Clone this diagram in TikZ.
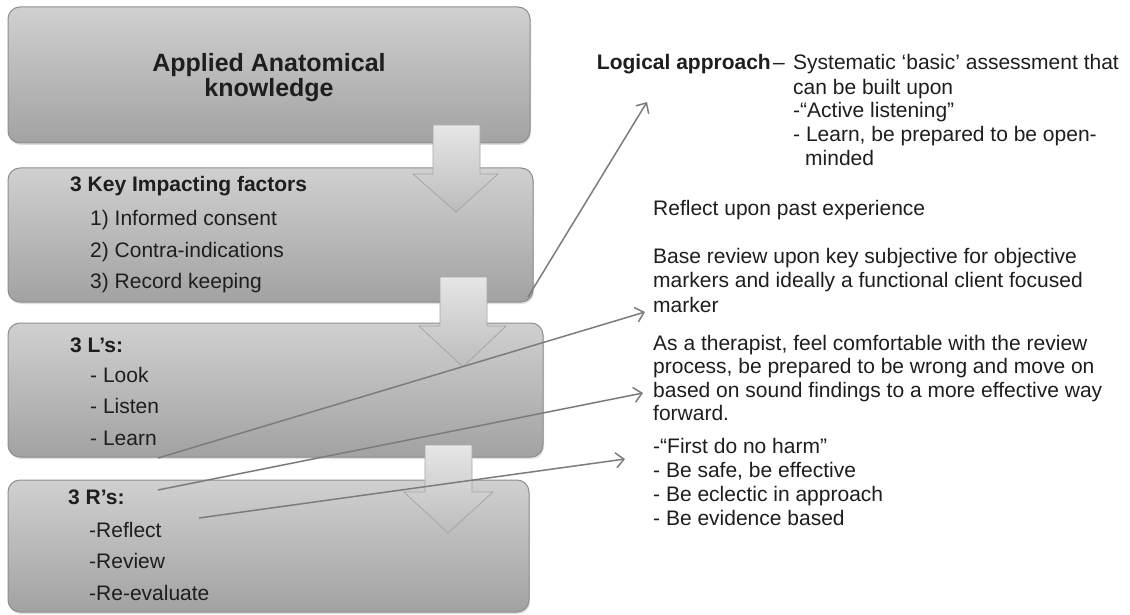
\documentclass[tikz,border=0pt]{standalone}
\usepackage{fontspec}
\setmainfont{Liberation Sans}
\usetikzlibrary{arrows.meta,shadows}
\definecolor{boxtop}{HTML}{D0D0D0}
\definecolor{boxbot}{HTML}{A2A2A2}
\definecolor{boxline}{HTML}{8E8E8E}
\definecolor{arrtop}{HTML}{E6E6E6}
\definecolor{arrbot}{HTML}{BCBCBC}
\definecolor{arrline}{HTML}{A6A6A6}
\definecolor{connc}{HTML}{7C7C7C}
\definecolor{ink}{HTML}{1E1E1E}
\begin{document}
\begin{tikzpicture}[x=1pt,y=-1pt,
  stage/.style={rounded corners=12pt, top color=boxtop, bottom color=boxbot,
    draw=boxline, line width=1pt, inner sep=0pt, outer sep=0pt,
    drop shadow={opacity=0.25, shadow xshift=1pt, shadow yshift=-2pt}},
  blockarrow/.style={top color=arrtop, bottom color=arrbot, draw=arrline, line width=0.8pt},
  connector/.style={draw=connc, line width=1.5pt, -{Straight Barb[length=8pt,width=15pt,line width=1.5pt]}},
  lt/.style={anchor=base west, inner sep=0pt, font=\fontsize{21}{25}\selectfont, text=ink},
  lh/.style={anchor=base west, inner sep=0pt, font=\fontsize{21}{25}\selectfont\bfseries, text=ink},
  ttl/.style={anchor=base, inner sep=0pt, font=\fontsize{25}{28}\selectfont\bfseries, text=ink},
  rt/.style={anchor=base west, inner sep=0pt, font=\fontsize{21}{24}\selectfont, text=ink},
]
\useasboundingbox (0,0) rectangle (1130,615);
\fill[white] (0,0) rectangle (1130,615);

% stage boxes
\node[stage, minimum width=522pt, minimum height=136pt] (b1) at (269,75) {};
\node[stage, minimum width=525pt, minimum height=134pt] (b2) at (270.5,235) {};
\node[stage, minimum width=535pt, minimum height=134pt] (b3) at (275.5,390) {};
\node[stage, minimum width=521pt, minimum height=132pt] (b4) at (268.5,546) {};

% block arrows
\path[blockarrow] (433,125) -- (480,125) -- (480,174) -- (498,174) -- (456,212) -- (413,174) -- (433,174) -- cycle;
\path[blockarrow] (440,277) -- (487,277) -- (487,326) -- (506,326) -- (463,367) -- (419,326) -- (440,326) -- cycle;
\path[blockarrow] (425,445) -- (472,445) -- (472,492) -- (493,492) -- (448,533) -- (404,492) -- (425,492) -- cycle;

% box texts
\node[ttl] (t1) at (269,72) {Applied Anatomical};
\node[ttl] (t2) at (269,97) {knowledge};

\node[lh] (k0) at (70,191) {3 Key Impacting factors};
\node[lt] (k1) at (90,225) {1) Informed consent};
\node[lt] (k2) at (90,257) {2) Contra-indications};
\node[lt] (k3) at (90,288) {3) Record keeping};

\node[lh] (l0) at (70,352) {3 L’s:};
\node[lt] (l1) at (90,382) {- Look};
\node[lt] (l2) at (90,413) {- Listen};
\node[lt] (l3) at (90,445) {- Learn};

\node[lh] (r0) at (68,504) {3 R’s:};
\node[lt] (r1) at (89,537) {-Reflect};
\node[lt] (r2) at (89,568) {-Review};
\node[lt] (r3) at (89,600) {-Re-evaluate};

% right column texts
\node[rt, anchor=base east, font=\fontsize{21}{24}\selectfont\bfseries] (la) at (771,70) {Logical approach};
\node[rt] (dash) at (773,70) {–};
\node[rt] (s1) at (793,70) {Systematic ‘basic’ assessment that};
\node[rt] (s2) at (793,95) {can be built upon};
\node[rt] (s3) at (793,118) {-“Active listening”};
\node[rt] (s4) at (793,142) {- Learn, be prepared to be open-};
\node[rt] (s5) at (805,165) {minded};

\node[rt] (p1) at (653,215) {Reflect upon past experience};

\node[rt] (q1) at (653,263) {Base review upon key subjective for objective};
\node[rt] (q2) at (653,287) {markers and ideally a functional client focused};
\node[rt] (q3) at (653,312) {marker};

\node[rt] (a1) at (653,350) {As a therapist, feel comfortable with the review};
\node[rt] (a2) at (653,373) {process, be prepared to be wrong and move on};
\node[rt] (a3) at (653,397) {based on sound findings to a more effective way};
\node[rt] (a4) at (653,420) {forward.};

\node[rt] (f1) at (653,453) {-“First do no harm”};
\node[rt] (f2) at (653,477) {- Be safe, be effective};
\node[rt] (f3) at (653,501) {- Be eclectic in approach};
\node[rt] (f4) at (653,525) {- Be evidence based};

% connectors
\coordinate (c1s) at (528,297);
\coordinate (c1e) at (647,102);
\coordinate (c2s) at (158,458);
\coordinate (c2e) at (645,312);
\coordinate (c3s) at (158,490);
\coordinate (c3e) at (643,393);
\coordinate (c4s) at (199,518);
\coordinate (c4e) at (625,459);
\draw[connector] (c1s) -- (c1e);
\draw[connector] (c2s) -- (c2e);
\draw[connector] (c3s) -- (c3e);
\draw[connector] (c4s) -- (c4e);
\end{tikzpicture}
\end{document}
